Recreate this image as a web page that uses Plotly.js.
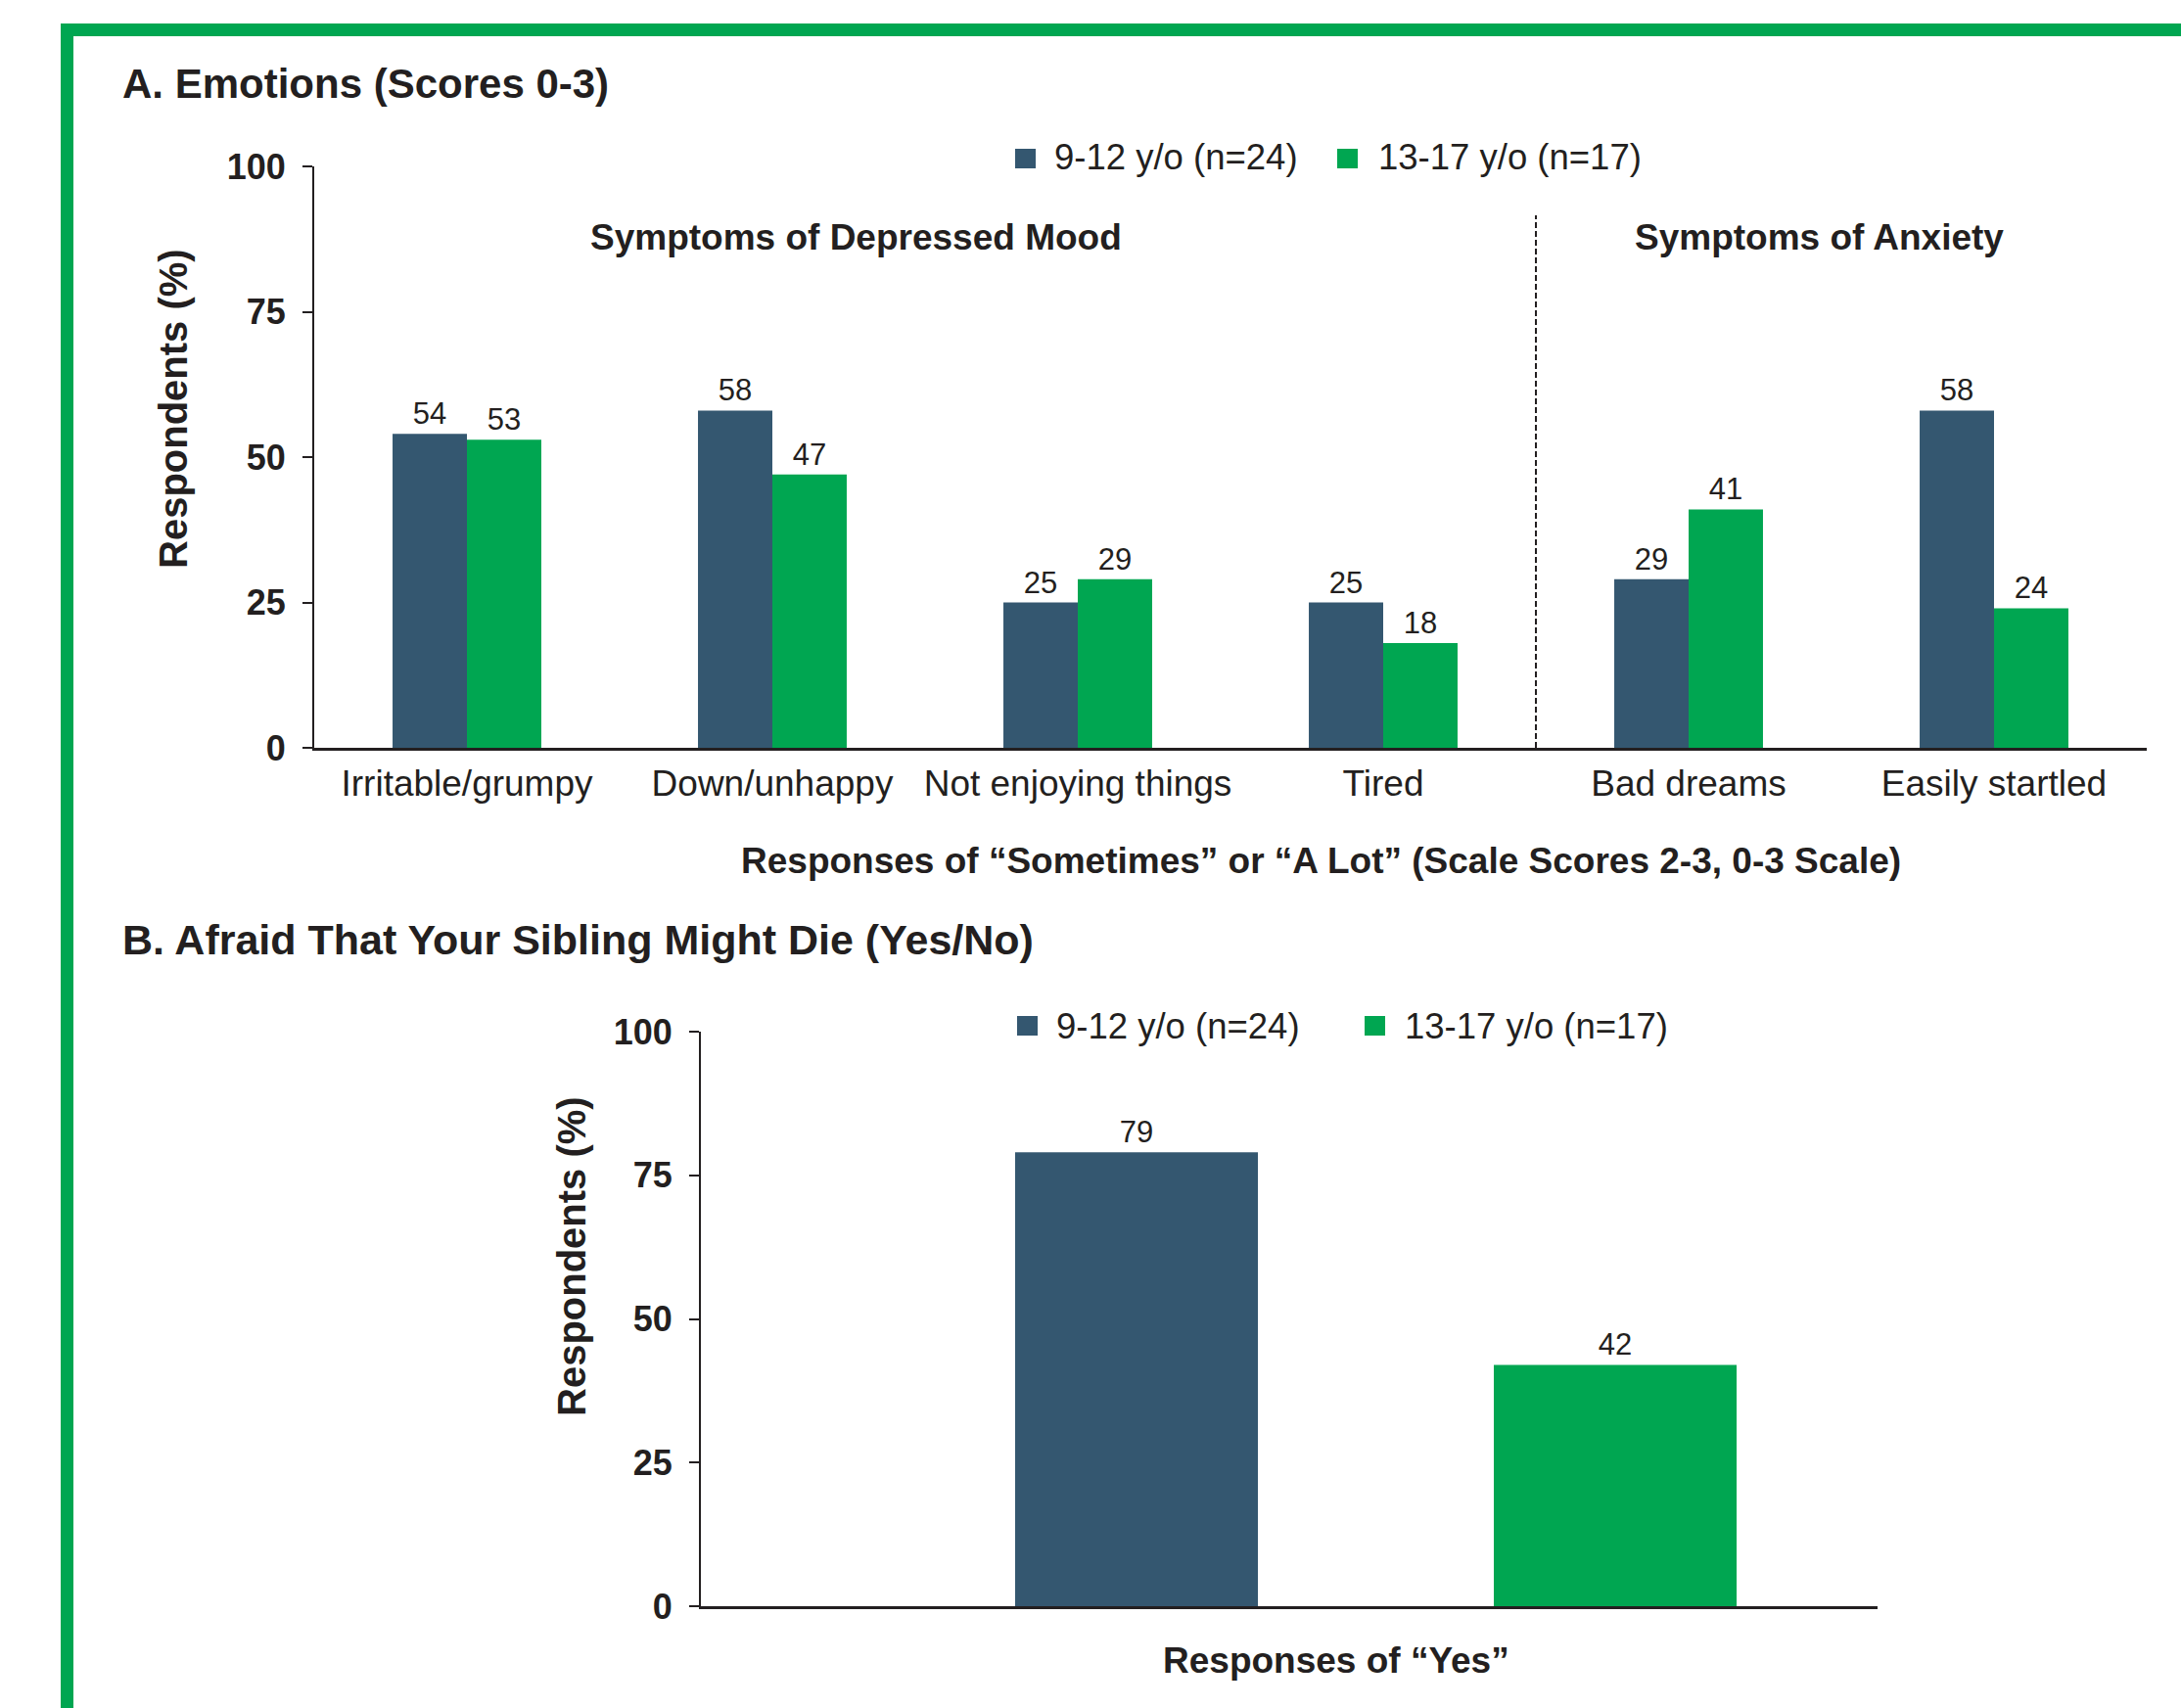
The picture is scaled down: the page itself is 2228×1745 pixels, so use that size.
<!DOCTYPE html>
<html>
<head>
<meta charset="utf-8">
<script src="https://cdn.plot.ly/plotly-3.0.1.min.js"></script>
<style>html,body{margin:0;padding:0;background:#fff;}#chart{width:2228px;height:1745px;}</style>
</head>
<body>
<div id="chart"></div>
<script>
// ---------- DATA ----------
const seriesNames = ['9-12 y/o (n=24)', '13-17 y/o (n=17)'];
const categoriesA = ['Irritable/grumpy', 'Down/unhappy', 'Not enjoying things', 'Tired', 'Bad dreams', 'Easily startled'];
const youngA = [54, 58, 25, 25, 29, 58];
const olderA = [53, 47, 29, 18, 41, 24];
const categoriesB = ['Yes'];
const youngB = [79];
const olderB = [42];
const yTicks = [0, 25, 50, 75, 100];
const groupHeaders = ['Symptoms of Depressed Mood', 'Symptoms of Anxiety'];
const titleA = 'A. Emotions (Scores 0-3)';
const titleB = 'B. Afraid That Your Sibling Might Die (Yes/No)';
const xTitleA = 'Responses of \u201cSometimes\u201d or \u201cA Lot\u201d (Scale Scores 2-3, 0-3 Scale)';
const xTitleB = 'Responses of \u201cYes\u201d';
const yTitle = 'Respondents (%)';

// ---------- STYLE ----------
const W = 2228, H = 1745;
const px = v => v / W;
const py = v => 1 - v / H;
const BLUE = '#345770';
const GREEN = '#00A651';
const INK = '#231F20';
const FONT = 'Liberation Sans, Arial, Helvetica, sans-serif';

function barTrace(x, y, name, color, xa, ya, extra) {
  return Object.assign({
    type: 'bar', x: x, y: y, name: name, xaxis: xa, yaxis: ya,
    marker: {color: color, line: {width: 0}},
    text: y.map(String), textposition: 'outside', constraintext: 'none',
    textfont: {family: FONT, size: 31, color: INK},
    cliponaxis: false, hoverinfo: 'skip', showlegend: false
  }, extra || {});
}

const data = [
  barTrace(categoriesA, youngA, seriesNames[0], BLUE, 'x', 'y'),
  barTrace(categoriesA, olderA, seriesNames[1], GREEN, 'x', 'y'),
  barTrace(categoriesB, youngB, seriesNames[0], BLUE, 'x2', 'y2', {width: [0.2536], offset: [-0.3768]}),
  barTrace(categoriesB, olderB, seriesNames[1], GREEN, 'x2', 'y2', {width: [0.2536], offset: [0.1232]})
];

const yAxisBase = {
  range: [0, 100], tickvals: yTicks, ticktext: yTicks.map(String),
  ticks: 'outside', ticklen: 10, tickwidth: 2, tickcolor: INK,
  showline: true, linecolor: INK, linewidth: 2,
  showgrid: false, zeroline: false, fixedrange: true,
  tickfont: {family: FONT, size: 36, color: INK, weight: 'bold'},
  ticklabelstandoff: 10
};

const xAxisBase = {
  type: 'category', showline: true, linecolor: INK, linewidth: 3,
  ticks: '', showgrid: false, zeroline: false, fixedrange: true,
  tickfont: {family: FONT, size: 37, color: INK}
};

function ann(text, x, y, size, opts) {
  return Object.assign({
    text: text, xref: 'paper', yref: 'paper', x: px(x), y: py(y),
    xanchor: 'center', yanchor: 'middle', showarrow: false,
    font: {family: FONT, size: size, color: INK}
  }, opts || {});
}
const bold = (size) => ({family: FONT, size: size, color: INK, weight: 'bold'});

function rect(x0, y0, x1, y1, color) {
  return {type: 'rect', xref: 'paper', yref: 'paper', x0: px(x0), x1: px(x1), y0: py(y1), y1: py(y0),
          fillcolor: color, line: {width: 0}, layer: 'above'};
}

const layout = {
  width: W, height: H,
  margin: {l: 0, r: 0, t: 0, b: 0, pad: 0},
  paper_bgcolor: '#ffffff', plot_bgcolor: 'rgba(0,0,0,0)',
  font: {family: FONT, color: INK},
  barmode: 'group', bargap: 0.513, bargroupgap: 0,
  showlegend: false,
  xaxis: Object.assign({}, xAxisBase, {domain: [px(321), px(2193)], anchor: 'y', range: [-0.5, 5.5], ticklabelstandoff: 2}),
  yaxis: Object.assign({}, yAxisBase, {domain: [py(764), py(170)], anchor: 'x'}),
  xaxis2: Object.assign({}, xAxisBase, {domain: [px(716), px(1918)], anchor: 'y2', range: [-0.705, 0.524], showticklabels: false}),
  yaxis2: Object.assign({}, yAxisBase, {domain: [py(1641), py(1054)], anchor: 'x2'}),
  shapes: [
    // green frame
    rect(62, 24, W, 37, GREEN),
    rect(62, 24, 75, H, GREEN),
    // divider between symptom groups
    {type: 'line', xref: 'x', yref: 'y', x0: 3.5, x1: 3.5, y0: 0, y1: 91.6,
     line: {color: INK, width: 2, dash: '6px,3px'}},
    // legend swatches A
    rect(1037, 152, 1058, 172, BLUE),
    rect(1366, 152, 1387, 172, GREEN),
    // legend swatches B
    rect(1039, 1038, 1060, 1058, BLUE),
    rect(1394, 1038, 1415, 1058, GREEN)
  ],
  annotations: [
    ann(titleA, 123, 85, 42, {xanchor: 'left', font: bold(42)}),
    ann(titleB, 123, 960, 43, {xanchor: 'left', font: bold(43)}),
    ann(groupHeaders[0], 874, 243, 37, {font: bold(37)}),
    ann(groupHeaders[1], 1858, 243, 37, {font: bold(37)}),
    ann(seriesNames[0], 1075, 160, 36.5, {xanchor: 'left'}),
    ann(seriesNames[1], 1406, 160, 36.5, {xanchor: 'left'}),
    ann(seriesNames[0], 1077, 1048, 36.5, {xanchor: 'left'}),
    ann(seriesNames[1], 1433, 1048, 36.5, {xanchor: 'left'}),
    ann(yTitle, 177, 418, 40, {textangle: -90, font: bold(40)}),
    ann(yTitle, 584, 1284, 40, {textangle: -90, font: bold(40)}),
    ann(xTitleA, 1349, 879, 37, {font: bold(37)}),
    ann(xTitleB, 1365, 1696, 37, {font: bold(37)})
  ]
};

Plotly.newPlot('chart', data, layout, {staticPlot: true, displayModeBar: false});
</script>
</body>
</html>
